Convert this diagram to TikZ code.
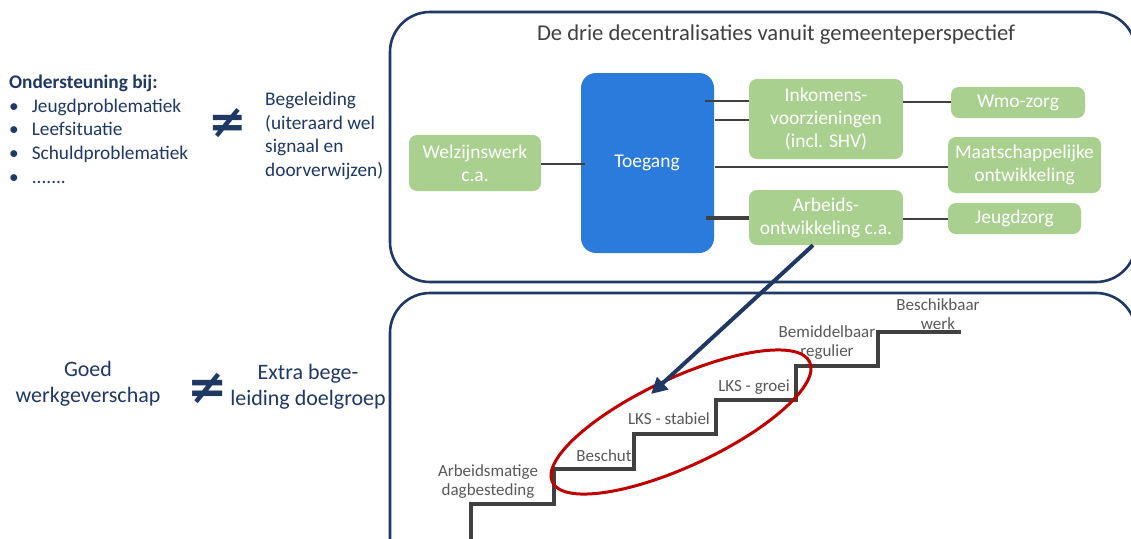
\documentclass[tikz,border=0pt]{standalone}
\usepackage{fontspec}
\setmainfont{Carlito}
\newfontfamily\symfont{DejaVu Sans}
\usetikzlibrary{arrows.meta,shapes.geometric}
\definecolor{navy}{RGB}{31,56,100}
\definecolor{boxblue}{RGB}{42,123,219}
\definecolor{boxgreen}{RGB}{169,208,142}
\definecolor{conngray}{RGB}{64,64,64}
\definecolor{txtgray}{RGB}{89,89,89}
\definecolor{ellred}{RGB}{192,0,0}
\tikzset{
  frame/.style={draw=navy,line width=2.6pt,rounded corners=40pt},
  gbox/.style={fill=boxgreen,rounded corners=8pt,text=white,align=center,inner sep=0pt,
    font=\fontsize{19.5}{23}\selectfont},
  conn/.style={draw=conngray,line width=1.8pt},
  stairline/.style={draw=conngray,line width=3.5pt},
  steplabel/.style={text=txtgray,align=center,inner sep=0pt,font=\fontsize{17}{19}\selectfont},
  lefttxt/.style={text=navy,inner sep=0pt,font=\fontsize{19.3}{23.5}\selectfont},
  neq/.style={text=navy,inner sep=0pt,font=\symfont\bfseries\fontsize{46}{46}\selectfont}
}
\begin{document}
\begin{tikzpicture}[x=1pt,y=-1pt]
\useasboundingbox (0,0) rectangle (1131,538);
\clip (0,0) rectangle (1131,538);
\fill[white] (0,0) rectangle (1131,538);
% frames
\draw[frame] (390,12) rectangle (1136,282);
\draw[frame] (390,293) rectangle (1136,600);
% title
\node[text=conngray,inner sep=0pt,font=\fontsize{22.6}{26}\selectfont] (title) at (776,35) {De drie decentralisaties vanuit gemeenteperspectief};
% boxes
\node[fill=boxblue,rounded corners=15pt,minimum width=133pt,minimum height=180pt,inner sep=0pt] (toe) at (647.5,163) {};
\node[text=white,inner sep=0pt,font=\fontsize{19.5}{22}\selectfont] (toetxt) at (647,163) {Toegang};
\node[gbox,minimum width=132pt,minimum height=56pt] (wel) at (475,163) {Welzijnswerk\\c.a.};
\node[gbox,minimum width=154pt,minimum height=80pt] (ink) at (826,119) {Inkomens-\\voorzieningen\\(incl. SHV)};
\node[gbox,minimum width=134pt,minimum height=31pt] (wmo) at (1018,102.5) {Wmo-zorg};
\node[gbox,minimum width=153pt,minimum height=56pt] (maa) at (1024.5,165) {Maatschappelijke\\ontwikkeling};
\node[gbox,minimum width=154pt,minimum height=55pt] (arb) at (826,217.5) {Arbeids-\\ontwikkeling c.a.};
\node[gbox,minimum width=133pt,minimum height=31pt] (jeu) at (1014.5,218.5) {Jeugdzorg};
% connectors
\draw[conn] (wel.east |- 0,164) -- (585,164);
\draw[conn] (ink.west |- 0,101) -- (705,101);
\draw[conn] (ink.west |- 0,120) -- (715,120);
\draw[conn] (maa.west |- 0,167) -- (715,167);
\draw[conn,line width=3.2pt] (arb.west |- 0,218) -- (706,218);
\draw[conn] (ink.east |- 0,102) -- (wmo.west |- 0,102);
\draw[conn] (arb.east |- 0,219) -- (jeu.west |- 0,219);
% stairs
\draw[stairline] (471,545) |- (554,504) |- (634,469) |- (716,434) |- (796,400) |- (878,366) |- (961,332);
% step labels
\node[steplabel] (l1) at (938,314) {Beschikbaar\\werk};
\node[steplabel] (l2) at (827,343) {Bemiddelbaar\\regulier};
\node[steplabel] (l3) at (754,387) {LKS - groei};
\node[steplabel] (l4) at (669,419) {LKS - stabiel};
\node[steplabel] (l5) at (604,456) {Beschut};
\node[steplabel] (l6) at (488,482) {Arbeidsmatige\\dagbesteding};
% red ellipse
\node[ellipse,draw=ellred,line width=3pt,minimum width=284pt,minimum height=88pt,inner sep=0pt,rotate=25] (ell) at (681,422) {};
% arrow
\coordinate (arrtip) at (651,394);
\draw[navy,line width=4pt,-{Triangle[length=16pt,width=16pt]}] (arb.south -| 813,0) -- (arrtip);
% left texts
\node[lefttxt,anchor=base west,font=\bfseries\fontsize{19.3}{23.5}\selectfont] (ond) at (9,88) {Ondersteuning bij:};
\node[lefttxt,anchor=base west] (b1) at (9,112) {\textbullet\hspace{13pt}Jeugdproblematiek};
\node[lefttxt,anchor=base west] (b2) at (9,135) {\textbullet\hspace{13pt}Leefsituatie};
\node[lefttxt,anchor=base west] (b3) at (9,159) {\textbullet\hspace{13pt}Schuldproblematiek};
\node[lefttxt,anchor=base west] (b4) at (9,183) {\textbullet\hspace{13pt}.......};
\node[neq] (ne1) at (228,123) {≠};
\node[lefttxt,anchor=north west,align=left] (beg) at (265,92) {Begeleiding\\(uiteraard wel\\signaal en\\doorverwijzen)};
\node[lefttxt,align=center,font=\fontsize{22}{26}\selectfont] (goed) at (88,384) {Goed\\werkgeverschap};
\node[neq,font=\symfont\bfseries\fontsize{48}{48}\selectfont] (ne2) at (208,388) {≠};
\node[lefttxt,align=center,font=\fontsize{22}{26}\selectfont] (extra) at (308,387) {Extra bege-\\leiding doelgroep};
\end{tikzpicture}
\end{document}
